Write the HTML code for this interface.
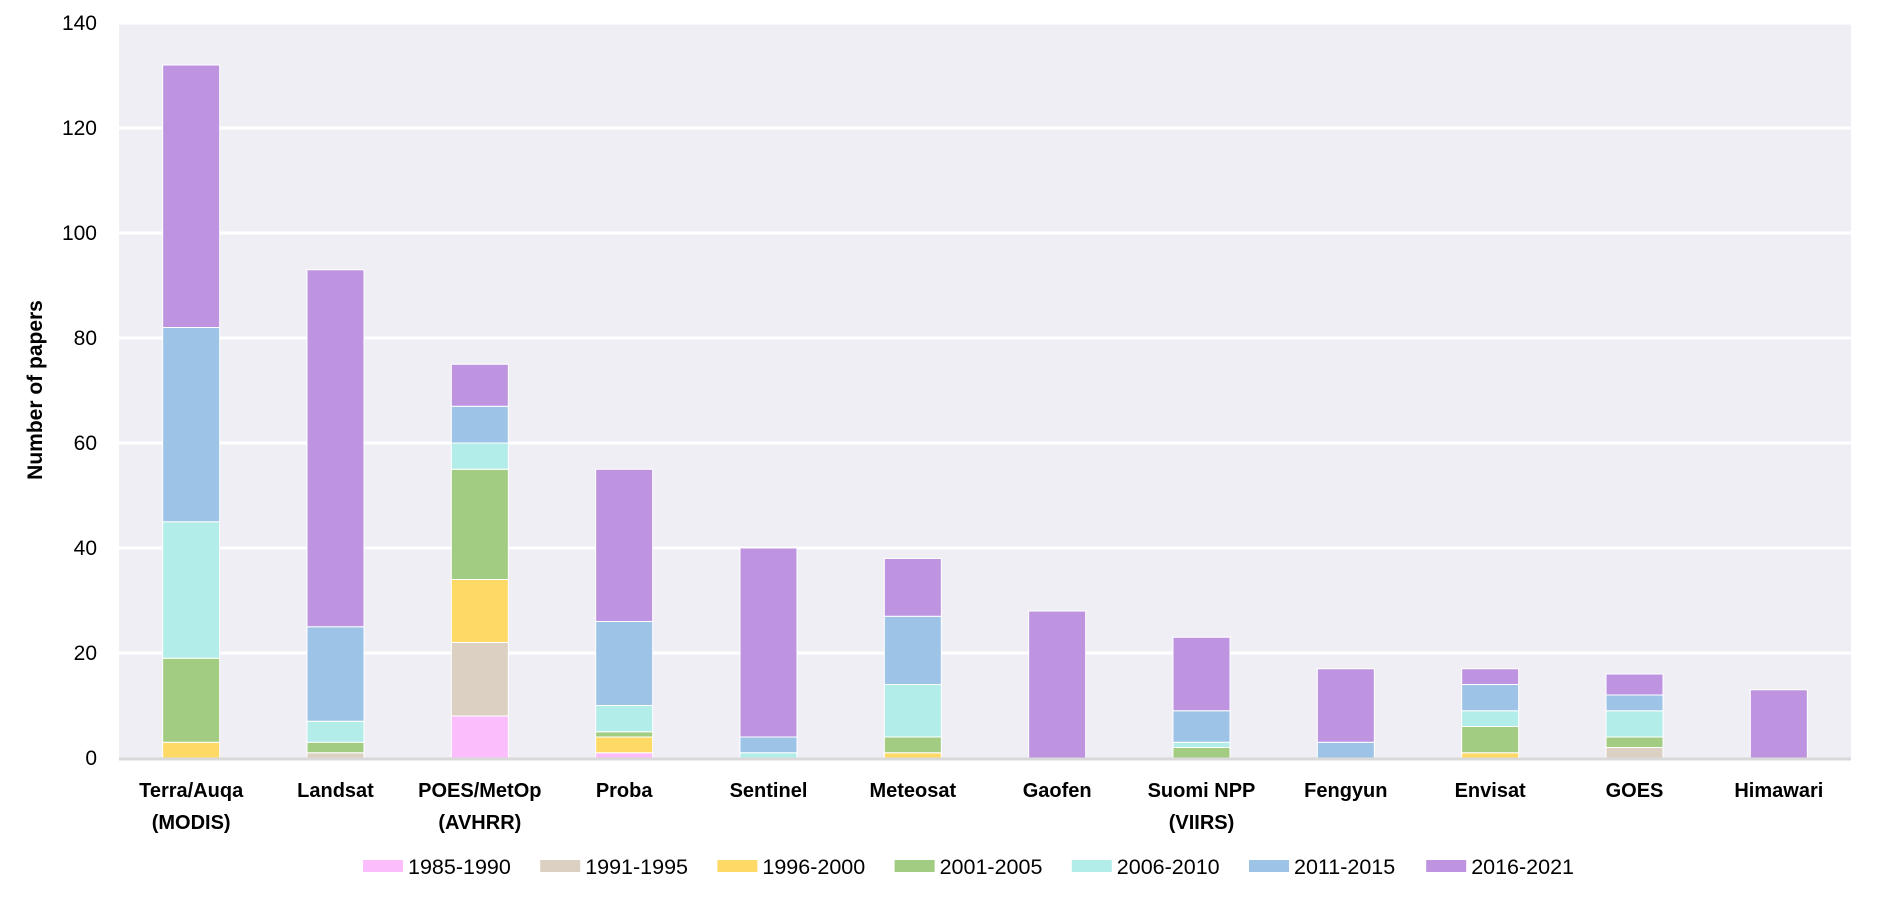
<!DOCTYPE html>
<html><head><meta charset="utf-8"><style>
html,body{margin:0;padding:0;background:#fff;}
svg{display:block;font-family:"Liberation Sans",sans-serif;}
</style></head><body>
<svg id="chart" width="1878" height="901" viewBox="0 0 1878 901" xmlns="http://www.w3.org/2000/svg"></svg>
<script>
const categories = [["Terra/Auqa","(MODIS)"],["Landsat"],["POES/MetOp","(AVHRR)"],["Proba"],["Sentinel"],["Meteosat"],["Gaofen"],["Suomi NPP","(VIIRS)"],["Fengyun"],["Envisat"],["GOES"],["Himawari"]];
const seriesNames = ["1985-1990","1991-1995","1996-2000","2001-2005","2006-2010","2011-2015","2016-2021"];
const seriesColors = ["#FBBDFB","#DCD0C2","#FFD966","#A1CC82","#B3EDEA","#9DC3E6","#BE94E0"];
const s1985 = [0,0,8,1,0,0,0,0,0,0,0,0];
const s1991 = [0,1,14,0,0,0,0,0,0,0,2,0];
const s1996 = [3,0,12,3,0,1,0,0,0,1,0,0];
const s2001 = [16,2,21,1,0,3,0,2,0,5,2,0];
const s2006 = [26,4,5,5,1,10,0,1,0,3,5,0];
const s2011 = [37,18,7,16,3,13,0,6,3,5,3,0];
const s2016 = [50,68,8,29,36,11,28,14,14,3,4,13];
const yTicks = [0,20,40,60,80,100,120,140];

const series = [s1985,s1991,s1996,s2001,s2006,s2011,s2016];
const svg = document.getElementById('chart');
const NS = 'http://www.w3.org/2000/svg';
const L = 119, R = 1851, T = 23, B = 758, YMAX = 140;
const y = v => B - (v / YMAX) * (B - T);
const cw = (R - L) / categories.length;
const xc = i => L + cw * (i + 0.5);
const bw = 57;
function mk(tag, attrs) { const e = document.createElementNS(NS, tag); for (const k in attrs) e.setAttribute(k, attrs[k]); svg.appendChild(e); return e; }

const bg = mk('rect', {x: L, y: T, width: R - L, height: B - T, fill: '#EFEEF5'});



yTicks.forEach(t => {
  if (t > 0) {
    const g = mk('line', {x1: L, x2: R, y1: y(t), y2: y(t), stroke: '#fff', 'stroke-width': 3});
    
    
  }
  const tx = mk('text', {x: 97, y: y(t) + 7, 'text-anchor': 'end', 'font-size': 21, fill: '#000'});
  tx.textContent = t;
  
  
});

categories.forEach((c, i) => {
  let acc = 0;
  series.forEach((s, k) => {
    const v = s[i];
    if (v > 0) {
      const r = mk('rect', {x: xc(i) - bw / 2, y: y(acc + v), width: bw, height: y(acc) - y(acc + v), fill: seriesColors[k], stroke: '#fff', 'stroke-width': 1});
      
      
    }
    acc += v;
  });
  c.forEach((line, j) => {
    const t = mk('text', {x: xc(i), y: 797 + j * 32, 'text-anchor': 'middle', 'font-size': 20, 'font-weight': 'bold', fill: '#000'});
    t.textContent = line;
    
    
  });
});

const base = mk('line', {x1: L, x2: R, y1: B + 1, y2: B + 1, stroke: '#D9D9D9', 'stroke-width': 3});



const yt = mk('text', {x: 0, y: 0, transform: 'translate(42,390) rotate(-90)', 'text-anchor': 'middle', 'font-size': 21, 'font-weight': 'bold', fill: '#000'});
yt.textContent = 'Number of papers';



seriesNames.forEach((n, k) => {
  const lx = 363 + 177.2 * k;
  const sw = mk('rect', {x: lx, y: 860, width: 40, height: 12, fill: seriesColors[k]});
  
  
  const t = mk('text', {x: lx + 45, y: 874, 'font-size': 21.5, fill: '#000'});
  t.textContent = n;
  
  
});
</script>
</body></html>
